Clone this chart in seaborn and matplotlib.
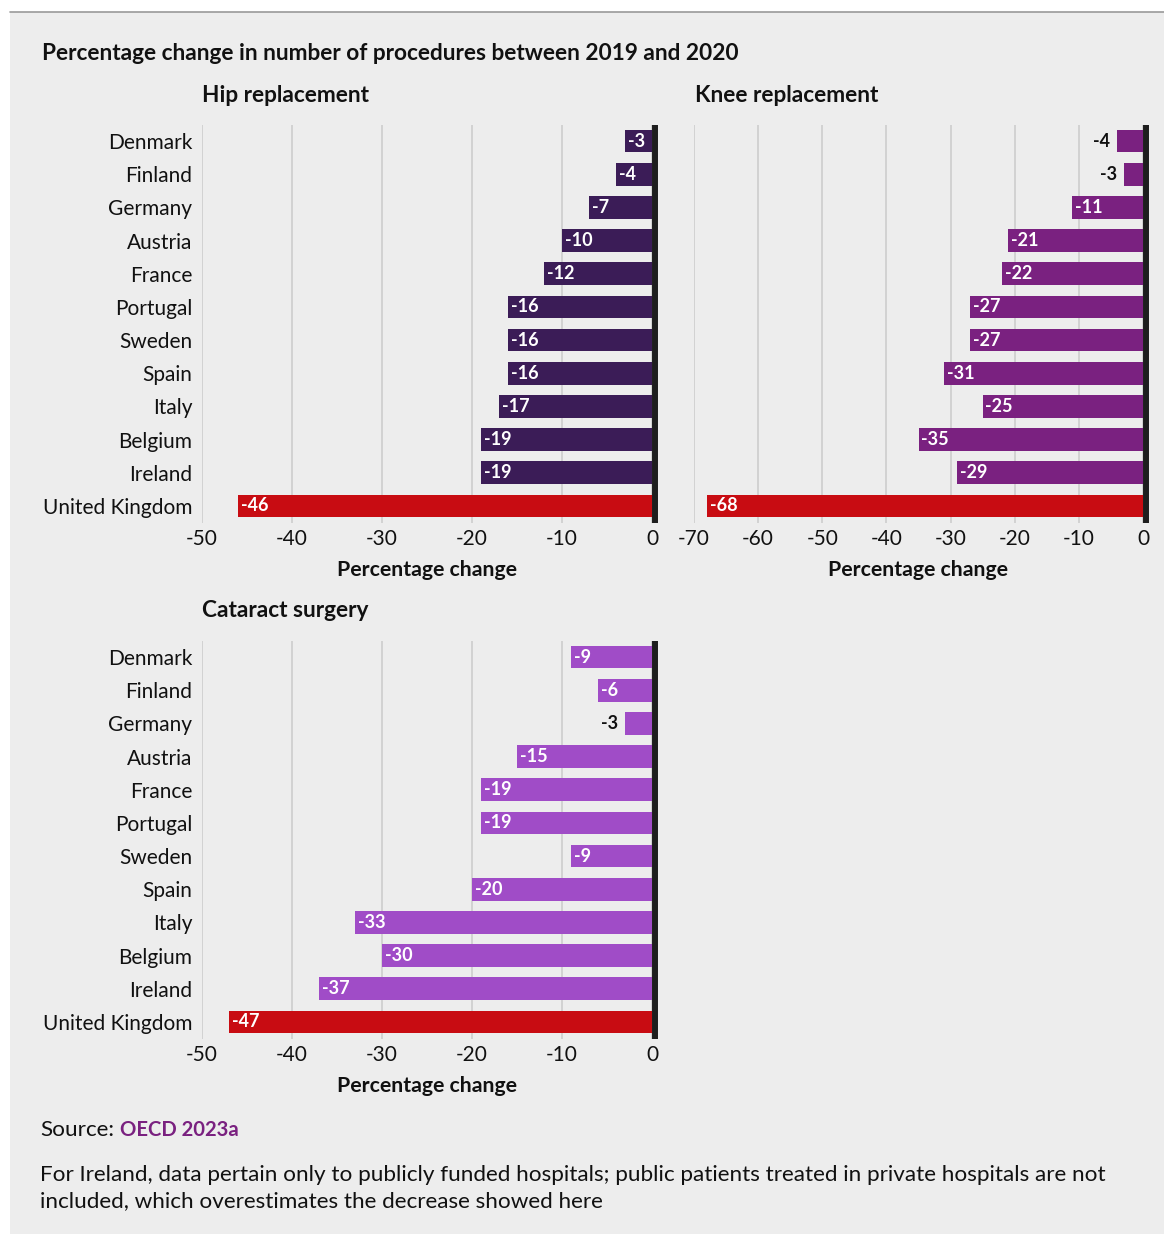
import matplotlib
matplotlib.use("Agg")
import matplotlib.pyplot as plt
import matplotlib.transforms as mtransforms
from matplotlib.patches import Rectangle
from matplotlib.lines import Line2D
import seaborn as sns
import pandas as pd

# ---- data -------------------------------------------------------------
countries = ["Denmark", "Finland", "Germany", "Austria", "France", "Portugal",
             "Sweden", "Spain", "Italy", "Belgium", "Ireland", "United Kingdom"]

hip_change = [-3, -4, -7, -10, -12, -16, -16, -16, -17, -19, -19, -46]
knee_change = [-4, -3, -11, -21, -22, -27, -27, -31, -25, -35, -29, -68]
cataract_change = [-9, -6, -3, -15, -19, -19, -9, -20, -33, -30, -37, -47]

panel_titles = ["Hip replacement", "Knee replacement", "Cataract surgery"]
hip_ticks = [-50, -40, -30, -20, -10, 0]
knee_ticks = [-70, -60, -50, -40, -30, -20, -10, 0]
cataract_ticks = [-50, -40, -30, -20, -10, 0]

# labels drawn beside (not inside) the short bars
outside_labels = {
    "Hip replacement": [],
    "Knee replacement": ["Denmark", "Finland"],
    "Cataract surgery": ["Germany"],
}

main_title = "Percentage change in number of procedures between 2019 and 2020"
x_title = "Percentage change"
source_prefix = "Source:"
source_name = "OECD 2023a"
footnote = ("For Ireland, data pertain only to publicly funded hospitals; public patients treated in private hospitals are not\n"
            "included, which overestimates the decrease showed here")

# ---- style ------------------------------------------------------------
sns.set_theme(style="white")
plt.rcParams["font.family"] = ["Lato", "DejaVu Sans"]

BG = "#ededed"
GRID = "#d2d2d2"
RED = "#c80c12"
panel_colors = {"Hip replacement": "#3b1c57",
                "Knee replacement": "#7a2180",
                "Cataract surgery": "#a04cc7"}
TEXT = "#111111"

W, H = 1164, 1234
fig = plt.figure(figsize=(W / 100, H / 100), dpi=100, facecolor="white")

# grey panel and top rule
fig.patches.append(Rectangle((10 / W, 0), 1 - 10 / W, 1 - 12 / H,
                             transform=fig.transFigure, facecolor=BG,
                             edgecolor="none", zorder=-10))
fig.lines.append(Line2D([10 / W, 1], [1 - 11.5 / H, 1 - 11.5 / H],
                        transform=fig.transFigure, color="#9a9a9a", lw=1.2))


def px_axes(left, top, right, bottom):
    return fig.add_axes([left / W, 1 - bottom / H, (right - left) / W, (bottom - top) / H])


def draw_panel(ax, title, values, ticks, show_countries):
    df = pd.DataFrame({"country": countries, "value": values})
    base = panel_colors[title]
    palette = {c: (RED if c == "United Kingdom" else base) for c in countries}
    sns.barplot(data=df, x="value", y="country", hue="country", order=countries,
                palette=palette, legend=False, width=0.68, saturation=1,
                linewidth=0, edgecolor="none", ax=ax, zorder=3)
    ax.set_facecolor("none")
    ax.set_xlim(ticks[0], 0)
    ax.set_ylim(len(countries) - 0.5, -0.5)
    ax.set_xticks(ticks)
    ax.set_xticklabels([str(t) for t in ticks])
    ax.xaxis.grid(True, color=GRID, lw=1.4, zorder=0)
    ax.yaxis.grid(False)
    for s in ax.spines.values():
        s.set_visible(False)
    ax.tick_params(axis="both", length=0, labelsize=15, colors=TEXT)
    ax.tick_params(axis="x", pad=5)
    ax.tick_params(axis="y", pad=7)
    ax.set_ylabel("")
    if not show_countries:
        ax.set_yticklabels([])
    ax.set_xlabel(x_title, fontsize=15.3, fontweight="bold", color=TEXT, labelpad=7.5)

    # zero baseline
    shift = mtransforms.offset_copy(ax.transData, fig=fig, x=2.2, y=0, units="points")
    ax.plot([0, 0], [-0.5, len(countries) - 0.5], color="#1e1e1e", lw=4.3,
            transform=shift, clip_on=False, zorder=5, solid_capstyle="butt")

    # value labels
    for i, (c, v) in enumerate(zip(countries, values)):
        if c in outside_labels[title]:
            ax.annotate(f"{v}", xy=(v, i), xytext=(-5, 0), textcoords="offset points",
                        ha="right", va="center", fontsize=13, fontweight="bold",
                        color=TEXT, zorder=6)
        else:
            ax.annotate(f"{v}", xy=(v, i), xytext=(2, 0), textcoords="offset points",
                        ha="left", va="center", fontsize=13, fontweight="bold",
                        color="white", zorder=6)


ax_hip = px_axes(202, 124.5, 652, 522.5)
ax_knee = px_axes(694, 124.5, 1143, 522.5)
ax_cat = px_axes(202, 640.5, 652, 1038.5)

draw_panel(ax_hip, "Hip replacement", hip_change, hip_ticks, True)
draw_panel(ax_knee, "Knee replacement", knee_change, knee_ticks, False)
draw_panel(ax_cat, "Cataract surgery", cataract_change, cataract_ticks, True)

# titles
TITLE_SIZE = 16.3
fig.text(42 / W, 1 - 54 / H, main_title, fontsize=TITLE_SIZE, fontweight="bold",
         color=TEXT, ha="left", va="center")
fig.text(202 / W, 1 - 95 / H, panel_titles[0], fontsize=TITLE_SIZE, fontweight="bold",
         color=TEXT, ha="left", va="center")
fig.text(695 / W, 1 - 95 / H, panel_titles[1], fontsize=TITLE_SIZE, fontweight="bold",
         color=TEXT, ha="left", va="center")
fig.text(202 / W, 1 - 610 / H, panel_titles[2], fontsize=TITLE_SIZE, fontweight="bold",
         color=TEXT, ha="left", va="center")

# source and note
src = fig.text(40 / W, 1 - 1136 / H, source_prefix, fontsize=16.2,
               color=TEXT, ha="left", va="baseline")
plt.annotate(source_name, xy=(1, 0), xycoords=src, xytext=(4.5, 0),
             textcoords="offset points", fontsize=14.6, fontweight="bold",
             color="#7a2180", ha="left", va="bottom", annotation_clip=False)
fig.text(40 / W, 1 - 1188 / H, footnote, fontsize=16.2, color=TEXT,
         ha="left", va="center", linespacing=1.4)

fig.savefig("out.png", dpi=100, facecolor="white")
